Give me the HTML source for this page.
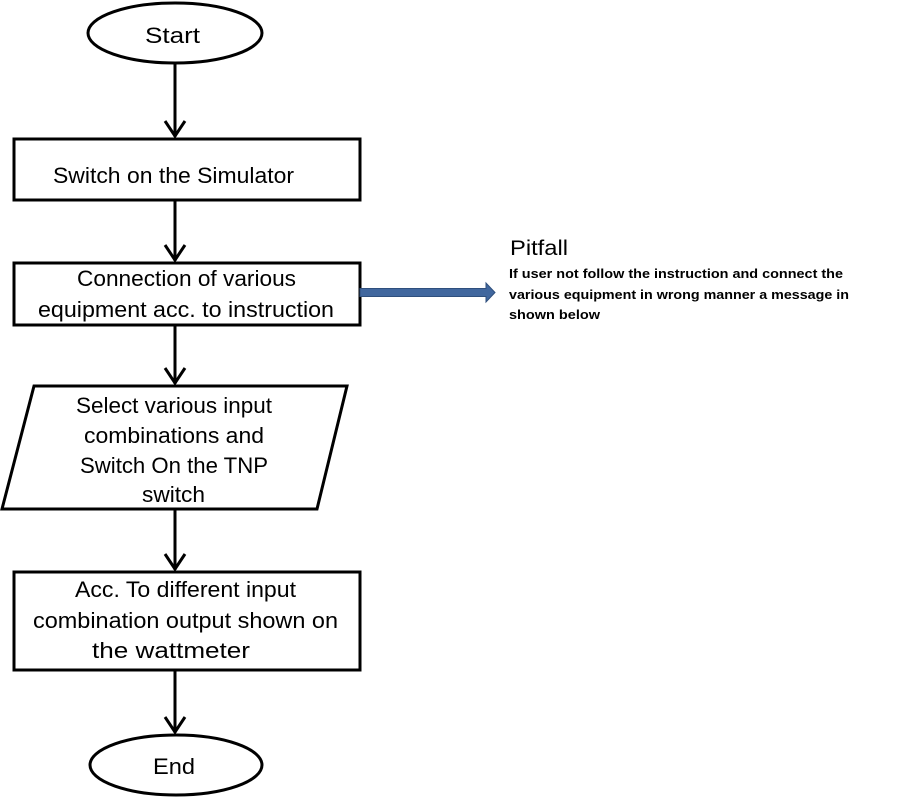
<!DOCTYPE html>
<html><head><style>html,body{margin:0;padding:0;background:#fff;}svg{display:block}</style></head>
<body>
<svg width="901" height="797" viewBox="0 0 901 797" xmlns="http://www.w3.org/2000/svg" font-family="Liberation Sans, sans-serif" fill="#000">
<g stroke="#000" stroke-width="3" fill="none">
<ellipse cx="175" cy="33" rx="87" ry="30"/>
<rect x="14" y="139" width="346" height="61"/>
<rect x="14" y="263" width="346" height="62"/>
<polygon points="34,386 347,386 317,509 2,509"/>
<rect x="14" y="572" width="346" height="98"/>
<ellipse cx="176" cy="765" rx="86" ry="30"/>
<line x1="175" y1="63" x2="175" y2="137"/>
<polyline points="165,121 175,136 185,121"/>
<line x1="175" y1="200" x2="175" y2="261"/>
<polyline points="165,245 175,260 185,245"/>
<line x1="175" y1="325" x2="175" y2="384"/>
<polyline points="165,368 175,383 185,368"/>
<line x1="175" y1="509" x2="175" y2="570"/>
<polyline points="165,554 175,569 185,554"/>
<line x1="175" y1="670" x2="175" y2="733"/>
<polyline points="165,717 175,732 185,717"/>
</g>
<polygon points="360,288.5 486,288.5 486,283 495,292.5 486,302 486,296.5 360,296.5" fill="#41679e" stroke="#2f4f7d" stroke-width="1"/>
<g font-size="22">
<text x="145" y="43" textLength="55" lengthAdjust="spacingAndGlyphs">Start</text>
<text x="53" y="183" textLength="241" lengthAdjust="spacingAndGlyphs">Switch on the Simulator</text>
<text x="77" y="286" textLength="219" lengthAdjust="spacingAndGlyphs">Connection of various</text>
<text x="38" y="317" textLength="296" lengthAdjust="spacingAndGlyphs">equipment acc. to instruction</text>
<text x="76" y="413" textLength="196" lengthAdjust="spacingAndGlyphs">Select various input</text>
<text x="84" y="443" textLength="180" lengthAdjust="spacingAndGlyphs">combinations and</text>
<text x="80" y="473" textLength="188" lengthAdjust="spacingAndGlyphs">Switch On the TNP</text>
<text x="142" y="502" textLength="63" lengthAdjust="spacingAndGlyphs">switch</text>
<text x="75" y="597" textLength="221" lengthAdjust="spacingAndGlyphs">Acc. To different input</text>
<text x="33" y="628" textLength="305" lengthAdjust="spacingAndGlyphs">combination output shown on</text>
<text x="92" y="658" textLength="158" lengthAdjust="spacingAndGlyphs">the wattmeter</text>
<text x="153" y="774" textLength="42" lengthAdjust="spacingAndGlyphs">End</text>
<text x="510" y="255" textLength="58" lengthAdjust="spacingAndGlyphs" font-size="21">Pitfall</text>
</g>
<g font-size="13" font-weight="bold">
<text x="509" y="278" textLength="334" lengthAdjust="spacingAndGlyphs">If user not follow the instruction and connect the</text>
<text x="509" y="299" textLength="340" lengthAdjust="spacingAndGlyphs">various equipment in wrong manner a message in</text>
<text x="509" y="319" textLength="91" lengthAdjust="spacingAndGlyphs">shown below</text>
</g>
</svg>
</body></html>
